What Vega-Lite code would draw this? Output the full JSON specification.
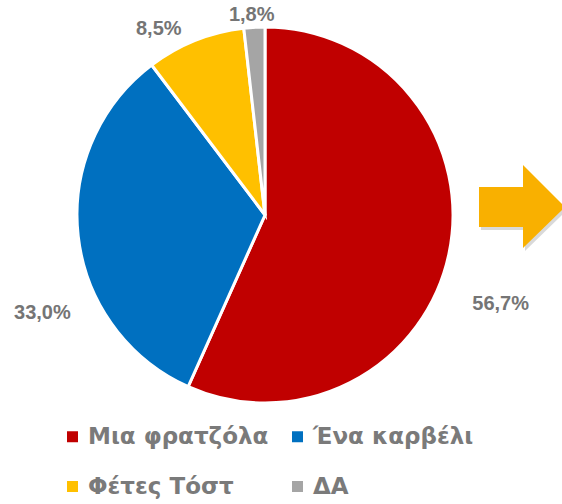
{
  "$schema": "https://vega.github.io/schema/vega-lite/v6.json",
  "width": 530,
  "height": 430,
  "autosize": {"type": "none"},
  "padding": {"left": 0, "top": 0, "right": 32, "bottom": 74},
  "background": "white",
  "config": {"view": {"stroke": null}},
  "data": {
    "values": [
      {"answer": "Μια φρατζόλα", "share": 56.7, "label": "56,7%", "rank": 1},
      {"answer": "Ένα καρβέλι", "share": 33.0, "label": "33,0%", "rank": 2},
      {"answer": "Φέτες Τόστ", "share": 8.5, "label": "8,5%", "rank": 3},
      {"answer": "ΔΑ", "share": 1.8, "label": "1,8%", "rank": 4}
    ]
  },
  "layer": [
    {
      "data": {"values": [{"item": "arrow shadow"}]},
      "mark": {"type": "point", "shape": "M216,-25L260,-25L260,-47L302,-5L260,36L260,15L216,15Z", "size": 4, "filled": true, "fill": "#000000", "opacity": 0.15, "strokeWidth": 0},
      "encoding": {}
    },
    {
      "data": {"values": [{"item": "arrow"}]},
      "mark": {"type": "point", "shape": "M214,-28L258,-28L258,-50L300,-8L258,33L258,12L214,12Z", "size": 4, "filled": true, "fill": "#F9B000", "opacity": 1, "strokeWidth": 0},
      "encoding": {}
    },
    {
      "mark": {"type": "arc", "outerRadius": 188, "stroke": "white", "strokeWidth": 3},
      "encoding": {
        "theta": {"field": "share", "type": "quantitative", "stack": true},
        "order": {"field": "rank", "type": "quantitative"},
        "color": {
          "field": "answer",
          "type": "nominal",
          "scale": {
            "domain": ["Μια φρατζόλα", "Ένα καρβέλι", "Φέτες Τόστ", "ΔΑ"],
            "range": ["#C00000", "#0070C0", "#FFC000", "#A5A5A5"]
          },
          "legend": {
            "orient": "none",
            "direction": "horizontal",
            "legendX": 61,
            "legendY": 425,
            "columns": 2,
            "title": null,
            "symbolType": "square",
            "symbolSize": 121,
            "symbolStrokeWidth": 0,
            "labelFont": "DejaVu Sans",
            "labelFontWeight": "bold",
            "labelFontSize": 23,
            "labelColor": "#7a7a7a",
            "labelOffset": 4,
            "rowPadding": 26,
            "columnPadding": 17,
            "padding": 0,
            "labelLimit": 400
          }
        }
      }
    },
    {
      "mark": {"type": "text", "radius": 241, "dy": 39, "align": "center", "baseline": "middle", "font": "Liberation Sans", "fontWeight": "bold", "fontSize": 20, "fill": "#757575"},
      "encoding": {
        "theta": {"field": "share", "type": "quantitative", "stack": true},
        "order": {"field": "rank", "type": "quantitative"},
        "detail": {"field": "answer", "type": "nominal"},
        "text": {"condition": {"test": "datum.answer === 'Μια φρατζόλα'", "field": "label", "type": "nominal"}, "value": ""}
      }
    },
    {
      "mark": {"type": "text", "radius": 224, "dy": 73, "align": "center", "baseline": "middle", "font": "Liberation Sans", "fontWeight": "bold", "fontSize": 20, "fill": "#757575"},
      "encoding": {
        "theta": {"field": "share", "type": "quantitative", "stack": true},
        "order": {"field": "rank", "type": "quantitative"},
        "detail": {"field": "answer", "type": "nominal"},
        "text": {"condition": {"test": "datum.answer === 'Ένα καρβέλι'", "field": "label", "type": "nominal"}, "value": ""}
      }
    },
    {
      "mark": {"type": "text", "radius": 200, "dx": -32, "align": "center", "baseline": "middle", "font": "Liberation Sans", "fontWeight": "bold", "fontSize": 20, "fill": "#757575"},
      "encoding": {
        "theta": {"field": "share", "type": "quantitative", "stack": true},
        "order": {"field": "rank", "type": "quantitative"},
        "detail": {"field": "answer", "type": "nominal"},
        "text": {"condition": {"test": "datum.answer === 'Φέτες Τόστ'", "field": "label", "type": "nominal"}, "value": ""}
      }
    },
    {
      "mark": {"type": "text", "radius": 200, "dx": -2, "align": "center", "baseline": "middle", "font": "Liberation Sans", "fontWeight": "bold", "fontSize": 20, "fill": "#757575"},
      "encoding": {
        "theta": {"field": "share", "type": "quantitative", "stack": true},
        "order": {"field": "rank", "type": "quantitative"},
        "detail": {"field": "answer", "type": "nominal"},
        "text": {"condition": {"test": "datum.answer === 'ΔΑ'", "field": "label", "type": "nominal"}, "value": ""}
      }
    }
  ]
}
